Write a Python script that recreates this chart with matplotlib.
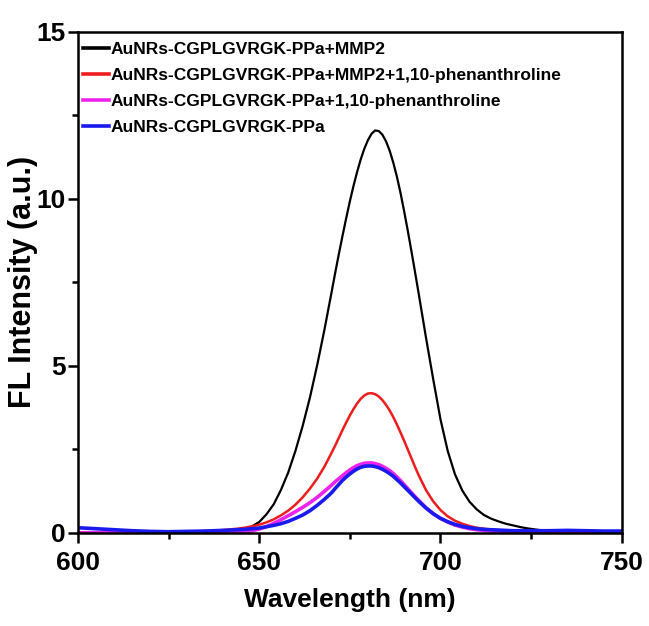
import numpy as np
import matplotlib
matplotlib.use("Agg")
import matplotlib.pyplot as plt
from matplotlib.ticker import MultipleLocator

plt.rcParams['font.family'] = ['Liberation Sans', 'DejaVu Sans']
plt.rcParams['font.weight'] = 'bold'

# Wavelength grid (nm): 5 nm in the flat tails, 2 nm on the band edges,
# 1 nm around the emission maximum
wavelength = ([600, 605, 610, 615, 620, 625, 630, 635]
              + list(range(640, 670, 2))
              + list(range(670, 695, 1))
              + list(range(696, 731, 2))
              + [735, 740, 745, 750])

# FL intensity (a.u.) at each wavelength
fl_mmp2 = ([0.0, 0.0, 0.0, 0.0, 0.0, 0.0, 0.01, 0.02]
           + [0.04, 0.05, 0.08, 0.12, 0.19, 0.32, 0.55, 0.85, 1.28, 1.80,
              2.45, 3.20, 4.05, 5.02, 6.08]
           + [7.22, 7.80, 8.36, 8.90, 9.42, 9.92, 10.38, 10.80, 11.18, 11.50,
              11.76, 11.95, 12.05, 12.03, 11.92, 11.72, 11.44, 11.08, 10.66,
              10.17, 9.62, 9.04, 8.43, 7.80, 7.16]
           + [5.85, 4.60, 3.40, 2.45, 1.75, 1.27, 0.93, 0.70, 0.53, 0.42,
              0.34, 0.27, 0.22, 0.17, 0.13, 0.10, 0.07, 0.05]
           + [0.03, 0.02, 0.01, 0.0])

fl_mmp2_phen = ([0.0, 0.0, 0.0, 0.0, 0.01, 0.02, 0.03, 0.05]
                + [0.08, 0.10, 0.12, 0.15, 0.19, 0.24, 0.31, 0.40, 0.52, 0.66,
                   0.84, 1.06, 1.32, 1.62, 1.98]
                + [2.40, 2.62, 2.85, 3.08, 3.30, 3.51, 3.70, 3.87, 4.01, 4.11,
                   4.17, 4.18, 4.15, 4.08, 3.97, 3.83, 3.66, 3.46, 3.24, 3.00,
                   2.75, 2.49, 2.23, 1.97, 1.72]
                + [1.28, 0.94, 0.68, 0.49, 0.36, 0.27, 0.20, 0.15, 0.12, 0.09,
                   0.07, 0.06, 0.05, 0.04, 0.03, 0.03, 0.02, 0.02]
                + [0.01, 0.01, 0.0, 0.0])

fl_phen = ([0.0, 0.0, 0.0, 0.0, 0.0, 0.0, 0.0, 0.0]
           + [0.01, 0.01, 0.02, 0.03, 0.06, 0.11, 0.18, 0.28, 0.39, 0.51,
              0.63, 0.76, 0.90, 1.06, 1.24]
           + [1.43, 1.53, 1.62, 1.71, 1.80, 1.88, 1.95, 2.01, 2.05, 2.08,
              2.09, 2.09, 2.07, 2.04, 1.99, 1.93, 1.86, 1.77, 1.67, 1.56,
              1.44, 1.32, 1.20, 1.08, 0.97]
           + [0.75, 0.57, 0.43, 0.32, 0.23, 0.17, 0.12, 0.09, 0.07, 0.05,
              0.04, 0.03, 0.02, 0.02, 0.02, 0.02, 0.02, 0.02]
           + [0.02, 0.02, 0.02, 0.02])

fl_ppa = ([0.15, 0.12, 0.09, 0.06, 0.04, 0.03, 0.04, 0.05]
          + [0.07, 0.08, 0.09, 0.10, 0.12, 0.14, 0.18, 0.22, 0.27, 0.34,
             0.43, 0.53, 0.66, 0.82, 1.00]
          + [1.20, 1.33, 1.45, 1.57, 1.67, 1.76, 1.84, 1.91, 1.96, 1.99,
             2.00, 2.00, 1.98, 1.95, 1.90, 1.84, 1.77, 1.69, 1.59, 1.49,
             1.38, 1.27, 1.16, 1.05, 0.94]
          + [0.74, 0.57, 0.43, 0.33, 0.25, 0.19, 0.15, 0.12, 0.10, 0.09,
             0.08, 0.07, 0.06, 0.06, 0.06, 0.06, 0.06, 0.06]
          + [0.07, 0.06, 0.05, 0.05])

labels = ["AuNRs-CGPLGVRGK-PPa+MMP2",
          "AuNRs-CGPLGVRGK-PPa+MMP2+1,10-phenanthroline",
          "AuNRs-CGPLGVRGK-PPa+1,10-phenanthroline",
          "AuNRs-CGPLGVRGK-PPa"]
colors = ["#000000", "#ee1c1c", "#ee22ee", "#1a1aee"]
widths = [1.6, 1.8, 2.6, 2.6]

fig = plt.figure(figsize=(6.49, 6.26), dpi=100)
ax = fig.add_axes([0.120, 0.149, 0.838, 0.800])

series = [fl_mmp2, fl_mmp2_phen, fl_phen, fl_ppa]
for y, lab, c, lw in zip(series, labels, colors, widths):
    ax.plot(wavelength, y, color=c, lw=lw, label=lab)

ax.set_xlim(600, 750)
ax.set_ylim(0, 15)
ax.xaxis.set_major_locator(MultipleLocator(50))
ax.xaxis.set_minor_locator(MultipleLocator(25))
ax.yaxis.set_major_locator(MultipleLocator(5))
ax.yaxis.set_minor_locator(MultipleLocator(2.5))

for s in ax.spines.values():
    s.set_linewidth(1.8)
ax.tick_params(which='major', direction='out', length=7, width=1.8,
               labelsize=19, pad=2)
ax.tick_params(axis='x', which='major', pad=6)
ax.tick_params(which='minor', direction='out', length=4, width=1.8)

ax.set_xlabel("Wavelength (nm)", fontsize=19, fontweight='bold')
ax.set_ylabel("FL Intensity (a.u.)", fontsize=22, fontweight='bold')
ax.xaxis.set_label_coords(0.5, -0.11)
ax.yaxis.set_label_coords(-0.074, 0.5)

leg = ax.legend(loc='upper left', bbox_to_anchor=(0.009, 0.98),
                frameon=False, fontsize=12.5, borderaxespad=0, borderpad=0,
                handlelength=1.5, handletextpad=0.1, labelspacing=0.62)
for line in leg.get_lines():
    line.set_linewidth(2.6)
for t in leg.get_texts():
    t.set_fontweight('bold')

fig.savefig("out.png", dpi=100)
